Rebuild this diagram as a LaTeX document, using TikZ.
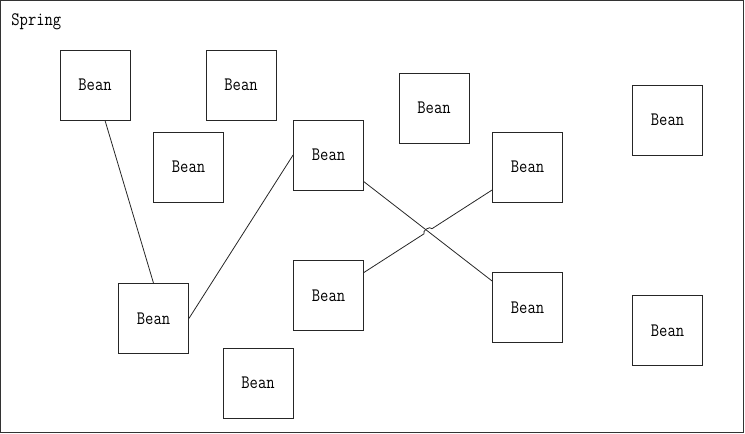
\documentclass[tikz,border=0pt]{standalone}
\usepackage{fontspec}
\usepackage{tikz}
\usetikzlibrary{calc}
\newfontfamily\beanfont[FakeStretch=0.85]{Latin Modern Mono}

\begin{document}
\begin{tikzpicture}[x=1pt, y=-1pt, line width=0.8pt]

	\tikzstyle{beanbox}=[rectangle, draw=black!85, minimum size=70pt, inner sep=0pt, fill=white, text=black, font=\beanfont\fontsize{19}{21}\selectfont]

	\useasboundingbox (0,0) rectangle (745,434);
	\draw [black!80] (0.5,0.5) rectangle (743.5,432.5);
	\node (springlabel) [anchor=base west, inner sep=0pt, font=\beanfont\fontsize{19}{21}\selectfont] at (11,25) {Spring};

	\node (beanA) at (95,85) [beanbox] {Bean};
	\node (beanB) at (241,85) [beanbox] {Bean};
	\node (beanC) at (188.5,167) [beanbox] {Bean};
	\node (beanD) at (328.5,155) [beanbox] {Bean};
	\node (beanE) at (434,108) [beanbox] {Bean};
	\node (beanF) at (527.5,167) [beanbox] {Bean};
	\node (beanG) at (667.5,120) [beanbox] {Bean};
	\node (beanH) at (153.5,318.5) [beanbox] {Bean};
	\node (beanI) at (328.5,295.5) [beanbox] {Bean};
	\node (beanJ) at (527.5,307.3) [beanbox] {Bean};
	\node (beanK) at (667.5,330.5) [beanbox] {Bean};
	\node (beanL) at (258,383) [beanbox] {Bean};

	\draw [black!85] ([xshift=10pt]beanA.south) -- (beanH.north);
	\draw [black!85] (beanH.east) -- (beanD.west);
	\draw [black!85] ([yshift=-26.7pt]beanD.east) -- ([yshift=26.3pt]beanJ.west);

	% small hop where the two lines cross
	\coordinate (hopstart) at ([yshift=23pt]beanI.east);
	\coordinate (hopend) at ([yshift=-23pt]beanF.west);
	\coordinate (hopa) at ($(hopstart)!0.469!(hopend)$);
	\coordinate (hopb) at ($(hopstart)!0.531!(hopend)$);
	\draw [black!85] (hopstart) -- (hopa) to[bend left=90] (hopb) -- (hopend);
\end{tikzpicture}
\end{document}
